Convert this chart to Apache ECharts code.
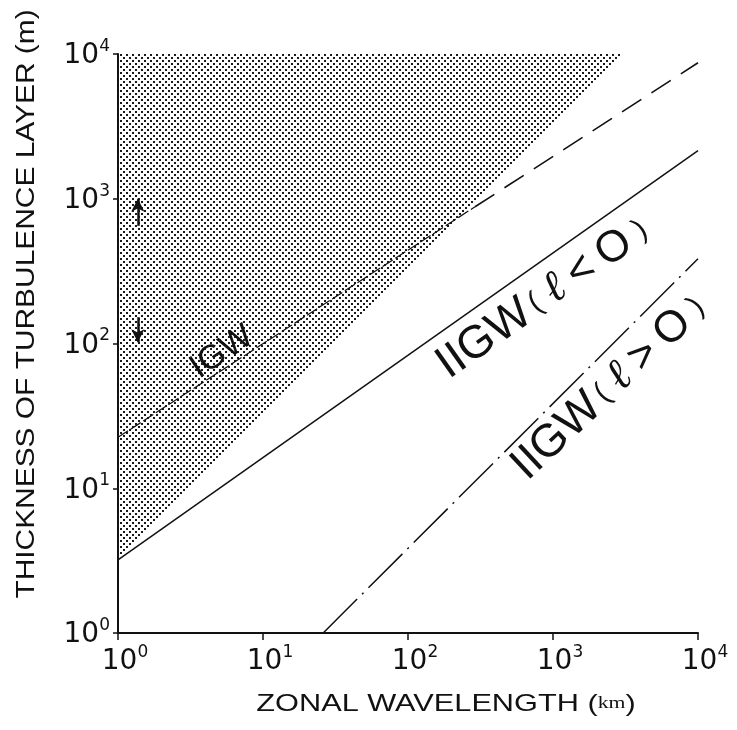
<!DOCTYPE html>
<html>
<head>
<meta charset="utf-8">
<script src="https://cdn.jsdelivr.net/npm/echarts@6/dist/echarts.min.js"></script>
<style>
  html, body { margin: 0; padding: 0; background: #fff; }
  #chart { width: 737px; height: 730px; }
</style>
</head>
<body>
<div id="chart"></div>
<script>
// Zonal wavelength (km) vs. thickness of turbulence layer (m), both logarithmic.
const xTicks = [1, 10, 100, 1000, 10000];
const yTicks = [1, 10, 100, 1000, 10000];

// Internal gravity wave limit (dashed); inner part runs through the stippled region
const igwInner = [[1, 22.5], [290, 880]];
const igwOuter = [[290, 880], [10000, 8700]];
// Inertio-internal gravity waves, l < 0 (solid)
const iigwNeg = [[1, 3.2], [10000, 2150]];
// Inertio-internal gravity waves, l > 0 (dash-dot)
const iigwPos = [[26, 1], [10000, 385]];
// Stippled region bounded by the y axis, the top edge and H = 3.2 * lambda
const shaded = [[1, 3.2], [3100, 10000], [1, 10000]];
// Vertical arrows near the y axis
const arrowUp = [[1.37, 650], [1.37, 1000]];
const arrowDown = [[1.37, 152], [1.37, 102]];

const FONT = '"Liberation Sans", Arial, Helvetica, sans-serif';
const WIDE = '"DejaVu Sans", "Liberation Sans", sans-serif';
const INK = '#111';

// dotted fill pattern
const tile = document.createElement('canvas');
tile.width = 6; tile.height = 6;
const tctx = tile.getContext('2d');
tctx.fillStyle = '#1a1a1a';
tctx.fillRect(0, 0, 2, 2);
tctx.fillRect(3, 3, 2, 2);

const supLabel = (v) => '{b|10}{s|' + Math.round(Math.log10(v)) + '}';
const supRich = {
  b: { fontSize: 28, fontFamily: WIDE, color: INK, lineHeight: 32, verticalAlign: 'bottom' },
  s: { fontSize: 17, fontFamily: WIDE, color: INK, lineHeight: 32, verticalAlign: 'top' }
};

const chart = echarts.init(document.getElementById('chart'), null, { renderer: 'canvas' });

const annot = (pt, text, angle, rich) => ({
  type: 'scatter',
  silent: true,
  symbolSize: 0,
  data: [pt],
  z: 5,
  itemStyle: { opacity: 1 },
  label: {
    show: true,
    position: 'inside',
    rotate: angle,
    color: INK,
    opacity: 1,
    textBorderWidth: 0,
    formatter: text,
    rich: rich
  }
});

const bigRich = {
  a: { fontSize: 46, fontFamily: FONT, color: INK, lineHeight: 52, verticalAlign: 'middle' },
  p: { fontSize: 30, fontFamily: FONT, color: INK, lineHeight: 52, verticalAlign: 'middle', padding: [0, 5, 0, 5] },
  l: { fontSize: 44, fontFamily: '"DejaVu Serif", serif', fontStyle: 'italic', color: INK, lineHeight: 52, verticalAlign: 'middle', padding: [0, 5, 0, 5] },
  c: { fontSize: 44, fontFamily: FONT, color: INK, lineHeight: 52, verticalAlign: 'middle', padding: [0, 5, 0, 5] }
};

const option = {
  backgroundColor: '#fff',
  animation: false,
  grid: { left: 118, right: 39, top: 54, bottom: 97, containLabel: false },
  // axis titles, drawn with a horizontal stretch to get the wide lettering
  graphic: [
    {
      type: 'text',
      x: 446, y: 704,
      scaleX: 1.28,
      silent: true,
      style: {
        text: '{t|ZONAL WAVELENGTH (}{k|km}{t|)}',
        align: 'center', verticalAlign: 'middle',
        rich: {
          t: { fontSize: 24, fontFamily: FONT, fill: INK },
          k: { fontSize: 17, fontFamily: '"Liberation Serif", serif', fill: INK }
        }
      }
    },
    {
      type: 'text',
      x: 27, y: 304,
      rotation: Math.PI / 2,
      scaleX: 1.15,
      silent: true,
      style: {
        text: 'THICKNESS OF TURBULENCE LAYER (m)',
        fontSize: 26, fontFamily: FONT, fill: INK,
        align: 'center', verticalAlign: 'middle'
      }
    }
  ],
  xAxis: {
    type: 'log', logBase: 10, min: 1, max: 10000,
    axisLine: { show: true, lineStyle: { color: INK, width: 2 } },
    axisTick: { show: true, length: 7, lineStyle: { color: INK, width: 1.5 } },
    minorTick: { show: false },
    splitLine: { show: false },
    axisLabel: {
      margin: 11,
      formatter: supLabel,
      padding: [0, 0, 0, 14],
      rich: supRich
    }
  },
  yAxis: {
    type: 'log', logBase: 10, min: 1, max: 10000,
    axisLine: { show: true, lineStyle: { color: INK, width: 2 } },
    axisTick: { show: true, length: 5, lineStyle: { color: INK, width: 1.5 } },
    minorTick: { show: false },
    splitLine: { show: false },
    axisLabel: {
      margin: 8,
      formatter: supLabel,
      rich: supRich
    }
  },
  series: [
    {
      type: 'custom',
      silent: true,
      z: 1,
      renderItem: (params, api) => {
        const pts = shaded.map(p => api.coord(p));
        return {
          type: 'polygon',
          shape: { points: pts },
          style: { fill: { image: tile, repeat: 'repeat' }, stroke: null }
        };
      },
      data: [0]
    },
    {
      type: 'line', data: igwInner, showSymbol: false, silent: true, z: 3,
      lineStyle: { color: INK, width: 1.2, type: [12, 3] }
    },
    {
      type: 'line', data: igwOuter, showSymbol: false, silent: true, z: 3,
      lineStyle: { color: INK, width: 1.6, type: [23, 12] }
    },
    {
      type: 'line', data: iigwNeg, showSymbol: false, silent: true, z: 3,
      lineStyle: { color: INK, width: 1.5 }
    },
    {
      type: 'line', data: iigwPos, showSymbol: false, silent: true, z: 3,
      lineStyle: { color: INK, width: 1.5, type: [48, 7, 2, 7] },
      markLine: {
        silent: true,
        symbol: ['none', 'arrow'],
        symbolSize: [10, 13],
        label: { show: false },
        lineStyle: { color: INK, width: 2.5, type: 'solid' },
        data: [
          [{ coord: arrowUp[0] }, { coord: arrowUp[1] }],
          [{ coord: arrowDown[0] }, { coord: arrowDown[1] }]
        ]
      }
    },
    annot([5.2, 87], '{a|IGW}', 34, { a: { fontSize: 34, fontFamily: FONT, color: INK } }),
    annot([881, 211], '{a|IIGW}{p|(}{l|ℓ}{c|<}{c|O}{p|)}', 35, bigRich),
    annot([2512, 51], '{a|IIGW}{p|(}{l|ℓ}{c|>}{c|O}{p|)}', 43, bigRich)
  ]
};

chart.setOption(option);
</script>
</body>
</html>
